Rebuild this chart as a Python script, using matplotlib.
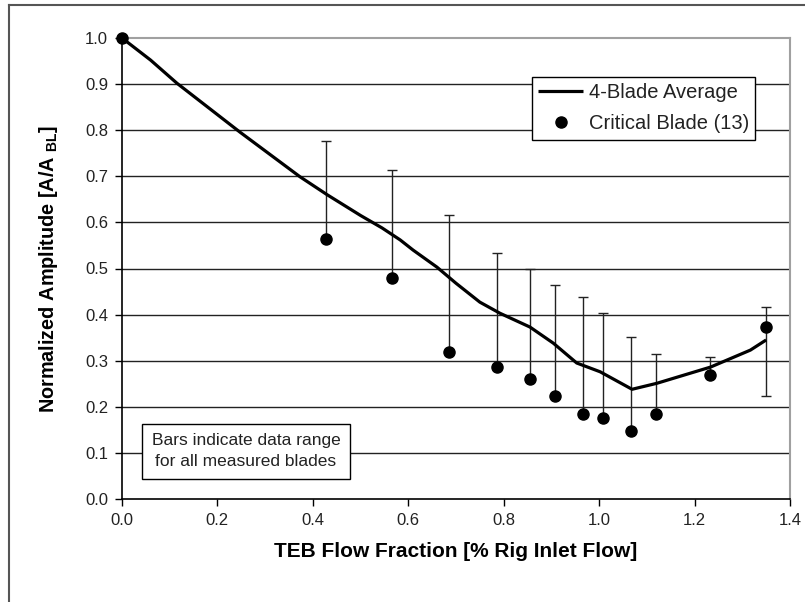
import matplotlib
matplotlib.use("Agg")
import matplotlib.pyplot as plt
from matplotlib.lines import Line2D
import numpy as np

plt.rcParams["font.family"] = ["Liberation Sans", "DejaVu Sans"]
plt.rcParams["mathtext.fontset"] = "custom"
plt.rcParams["mathtext.rm"] = "Liberation Sans:bold"
plt.rcParams["mathtext.bf"] = "Liberation Sans:bold"

# 4-blade average curve
avg_x = [0.0, 0.06, 0.115, 0.247, 0.373, 0.43, 0.50, 0.545, 0.583, 0.61, 0.66,
         0.70, 0.75, 0.792, 0.855, 0.904, 0.953, 1.002, 1.069, 1.121,
         1.233, 1.317, 1.35]
avg_y = [1.0, 0.952, 0.902, 0.796, 0.699, 0.66, 0.615, 0.588, 0.562, 0.54, 0.503,
         0.468, 0.427, 0.403, 0.373, 0.338, 0.295, 0.276, 0.238, 0.251,
         0.286, 0.323, 0.345]

# critical blade (13) and data range across all measured blades
blade_x = [0.0, 0.427, 0.566, 0.685, 0.786, 0.855, 0.907, 0.966, 1.008, 1.067,
           1.119, 1.233, 1.35]
blade_y = [1.0, 0.563, 0.479, 0.319, 0.287, 0.260, 0.223, 0.184, 0.175, 0.148,
           0.184, 0.269, 0.373]
range_lo = [1.0, 0.563, 0.479, 0.319, 0.287, 0.260, 0.223, 0.184, 0.175, 0.148,
            0.184, 0.269, 0.223]
range_hi = [1.0, 0.777, 0.714, 0.616, 0.533, 0.499, 0.464, 0.438, 0.403, 0.352,
            0.315, 0.308, 0.416]

x_ticks = [0.0, 0.2, 0.4, 0.6, 0.8, 1.0, 1.2, 1.4]
y_ticks = [0.0, 0.1, 0.2, 0.3, 0.4, 0.5, 0.6, 0.7, 0.8, 0.9, 1.0]

fig = plt.figure(figsize=(8.05, 6.02), dpi=100)
ax = fig.add_axes([122 / 805, 1 - 499 / 602, (790 - 122) / 805, (499 - 38) / 602])

# outer chart-area frame (cropped on the right and bottom)
fig.add_artist(Line2D([9 / 805, 9 / 805], [0, 1 - 5 / 602], transform=fig.transFigure,
                      color="#555555", lw=1.5))
fig.add_artist(Line2D([9 / 805, 1], [1 - 5 / 602, 1 - 5 / 602], transform=fig.transFigure,
                      color="#555555", lw=1.5))

bx = np.array(blade_x)
by = np.array(blade_y)
err = [by - np.array(range_lo), np.array(range_hi) - by]
ax.errorbar(bx[1:], by[1:], yerr=[err[0][1:], err[1][1:]], fmt="none", ecolor="#222222",
            elinewidth=1.0, capsize=3.8, capthick=1.0, zorder=3)
ax.plot(avg_x, avg_y, color="black", lw=2.3, zorder=4, label="4-Blade Average",
        solid_capstyle="butt")
ax.plot(blade_x, blade_y, "o", color="black", ms=8, zorder=5, clip_on=False,
        label="Critical Blade (13)")

ax.set_xlim(0, 1.4)
ax.set_ylim(0, 1.0)
ax.set_xticks(x_ticks)
ax.set_yticks(y_ticks)
ax.set_xticklabels([f"{v:.1f}" for v in x_ticks])
ax.set_yticklabels([f"{v:.1f}" for v in y_ticks])
ax.tick_params(direction="out", length=5, width=1.0, color="black",
               labelsize=12, labelcolor="#222222", pad=5)

ax.yaxis.grid(True, color="#222222", lw=1.0)
ax.set_axisbelow(True)
for gl in (ax.get_ygridlines()[0], ax.get_ygridlines()[-1]):
    gl.set_visible(False)

for s in ("top", "right"):
    ax.spines[s].set_color("#a0a0a0")
    ax.spines[s].set_linewidth(1.5)
for s in ("left", "bottom"):
    ax.spines[s].set_color("black")
    ax.spines[s].set_linewidth(1.2)

ax.set_xlabel("TEB Flow Fraction [% Rig Inlet Flow]", fontsize=15, fontweight="bold",
              labelpad=10)
ax.set_ylabel(r"Normalized Amplitude [A/A $_{\mathbf{BL}}$]", fontsize=14.3,
              fontweight="bold", labelpad=18)

leg = ax.legend(loc="upper left", bbox_to_anchor=(532 / 805, 1 - 77 / 602),
                bbox_transform=fig.transFigure, fontsize=14.5, frameon=True,
                fancybox=False, edgecolor="black", framealpha=1, borderpad=0.32,
                handlelength=2.2, handletextpad=0.3, labelspacing=0.58,
                borderaxespad=0)
leg.get_frame().set_linewidth(1.0)
for t in leg.get_texts():
    t.set_color("#222222")

ax.text(0.26, 0.104, "Bars indicate data range\nfor all measured blades",
        ha="center", va="center", fontsize=12.5, color="#222222", linespacing=1.5,
        zorder=6,
        bbox=dict(boxstyle="square,pad=0.55", facecolor="white", edgecolor="black", lw=1.0))

fig.savefig("out.png", dpi=100)
